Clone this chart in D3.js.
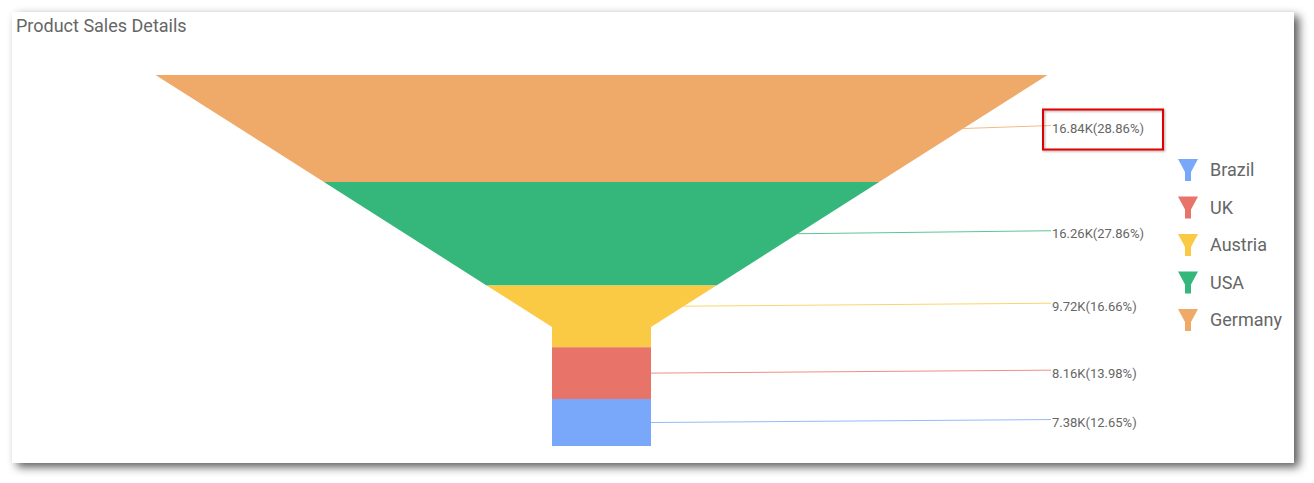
<!DOCTYPE html>
<html>
<head>
<meta charset="utf-8">
<script src="https://cdn.jsdelivr.net/npm/d3@7"></script>
<style>
  body { margin: 0; background: #fff; font-family: Roboto, "Open Sans", sans-serif; }
</style>
</head>
<body>
<div id="chart"></div>
<script>
// data (top to bottom of the funnel)
var countries = ["Germany", "USA", "Austria", "UK", "Brazil"];
var sales = [16.84, 16.26, 9.72, 8.16, 7.38];          // thousands
var shares = [28.86, 27.86, 16.66, 13.98, 12.65];       // percent
var colors = ["#efaa69", "#35b67a", "#fbca44", "#e77369", "#79a8fa"];

var width = 1314, height = 483;

var svg = d3.select("#chart").append("svg")
  .attr("width", width)
  .attr("height", height);

// card shadow
var defs = svg.append("defs");
var shadow = defs.append("filter").attr("id", "shadow")
  .attr("x", "-5%").attr("y", "-10%").attr("width", "110%").attr("height", "125%");
shadow.append("feDropShadow")
  .attr("dx", 5).attr("dy", 4).attr("stdDeviation", 5)
  .attr("flood-color", "#000").attr("flood-opacity", 0.65);

var boxShadow = defs.append("filter").attr("id", "boxShadow")
  .attr("x", "-10%").attr("y", "-30%").attr("width", "120%").attr("height", "160%");
boxShadow.append("feDropShadow")
  .attr("dx", 1).attr("dy", 1).attr("stdDeviation", 1)
  .attr("flood-color", "#000").attr("flood-opacity", 0.35);

svg.append("rect")
  .attr("x", 12).attr("y", 12)
  .attr("width", 1282).attr("height", 451)
  .attr("fill", "#fff")
  .attr("filter", "url(#shadow)");

// title
svg.append("text")
  .attr("x", 16).attr("y", 32)
  .attr("font-size", "18px")
  .attr("fill", "#666")
  .text("Product Sales Details");

// funnel geometry
var cx = 601.5,
  funnelTop = 75, funnelBottom = 446, neckY = 327,
  topHalf = 446, neckHalf = 49.5;

var total = d3.sum(sales);
var y = d3.scaleLinear().domain([0, total]).range([funnelTop, funnelBottom]);
var halfW = d3.scaleLinear().domain([funnelTop, neckY]).range([topHalf, neckHalf]).clamp(true);

var cum = [0];
sales.forEach(function (v, i) { cum.push(cum[i] + v); });

var segs = sales.map(function (v, i) {
  return { name: countries[i], value: v, share: shares[i], color: colors[i],
    y0: y(cum[i]), y1: y(cum[i + 1]) };
});

function crossesNeck(d) { return d.y0 < neckY && d.y1 > neckY; }

function segPath(d) {
  var pts = [[cx - halfW(d.y0), d.y0], [cx + halfW(d.y0), d.y0]];
  if (crossesNeck(d)) pts.push([cx + neckHalf, neckY]);
  pts.push([cx + halfW(d.y1), d.y1], [cx - halfW(d.y1), d.y1]);
  if (crossesNeck(d)) pts.push([cx - neckHalf, neckY]);
  return "M" + pts.map(function (p) { return p.join(","); }).join("L") + "Z";
}

svg.selectAll("path.seg")
  .data(segs)
  .enter().append("path")
  .attr("class", "seg")
  .attr("d", segPath)
  .attr("fill", function (d) { return d.color; });

// labels + connectors
var labelX = 1051;
function labelY(d) {
  if (crossesNeck(d)) return (d.y0 + neckY) / 2;
  return (d.y0 + d.y1) / 2;
}

svg.selectAll("line.conn")
  .data(segs)
  .enter().append("line")
  .attr("class", "conn")
  .attr("x1", function (d) { return cx + halfW(labelY(d)); })
  .attr("y1", function (d) { return labelY(d); })
  .attr("x2", labelX)
  .attr("y2", function (d) { return labelY(d) - 3; })
  .attr("stroke", function (d) { return d.color; })
  .attr("stroke-opacity", 0.8)
  .attr("stroke-width", 1);

// highlighted box on the first label
svg.append("rect")
  .attr("x", 1043).attr("y", labelY(segs[0]) - 19)
  .attr("width", 120).attr("height", 40)
  .attr("fill", "none")
  .attr("stroke", "#e00000")
  .attr("stroke-width", 2)
  .attr("filter", "url(#boxShadow)");

svg.selectAll("text.lbl")
  .data(segs)
  .enter().append("text")
  .attr("class", "lbl")
  .attr("x", labelX + 1)
  .attr("y", function (d) { return labelY(d); })
  .attr("dy", "0.35em")
  .attr("font-size", "13px")
  .attr("fill", "#666")
  .text(function (d) { return d.value.toFixed(2) + "K(" + d.share.toFixed(2) + "%)"; });

// legend (bottom segment first)
var legendData = segs.slice().reverse();
var ly = d3.scalePoint().domain(legendData.map(function (d) { return d.name; }))
  .range([170, 320]);

var leg = svg.selectAll("g.legend")
  .data(legendData)
  .enter().append("g")
  .attr("class", "legend")
  .attr("transform", function (d) { return "translate(1188," + ly(d.name) + ")"; });

leg.append("path")
  .attr("d", "M-10,-11L10,-11L3,2L3,11L-3,11L-3,2Z")
  .attr("fill", function (d) { return d.color; });

leg.append("text")
  .attr("x", 22)
  .attr("dy", "0.35em")
  .attr("font-size", "18px")
  .attr("fill", "#666")
  .text(function (d) { return d.name; });
</script>
</body>
</html>
